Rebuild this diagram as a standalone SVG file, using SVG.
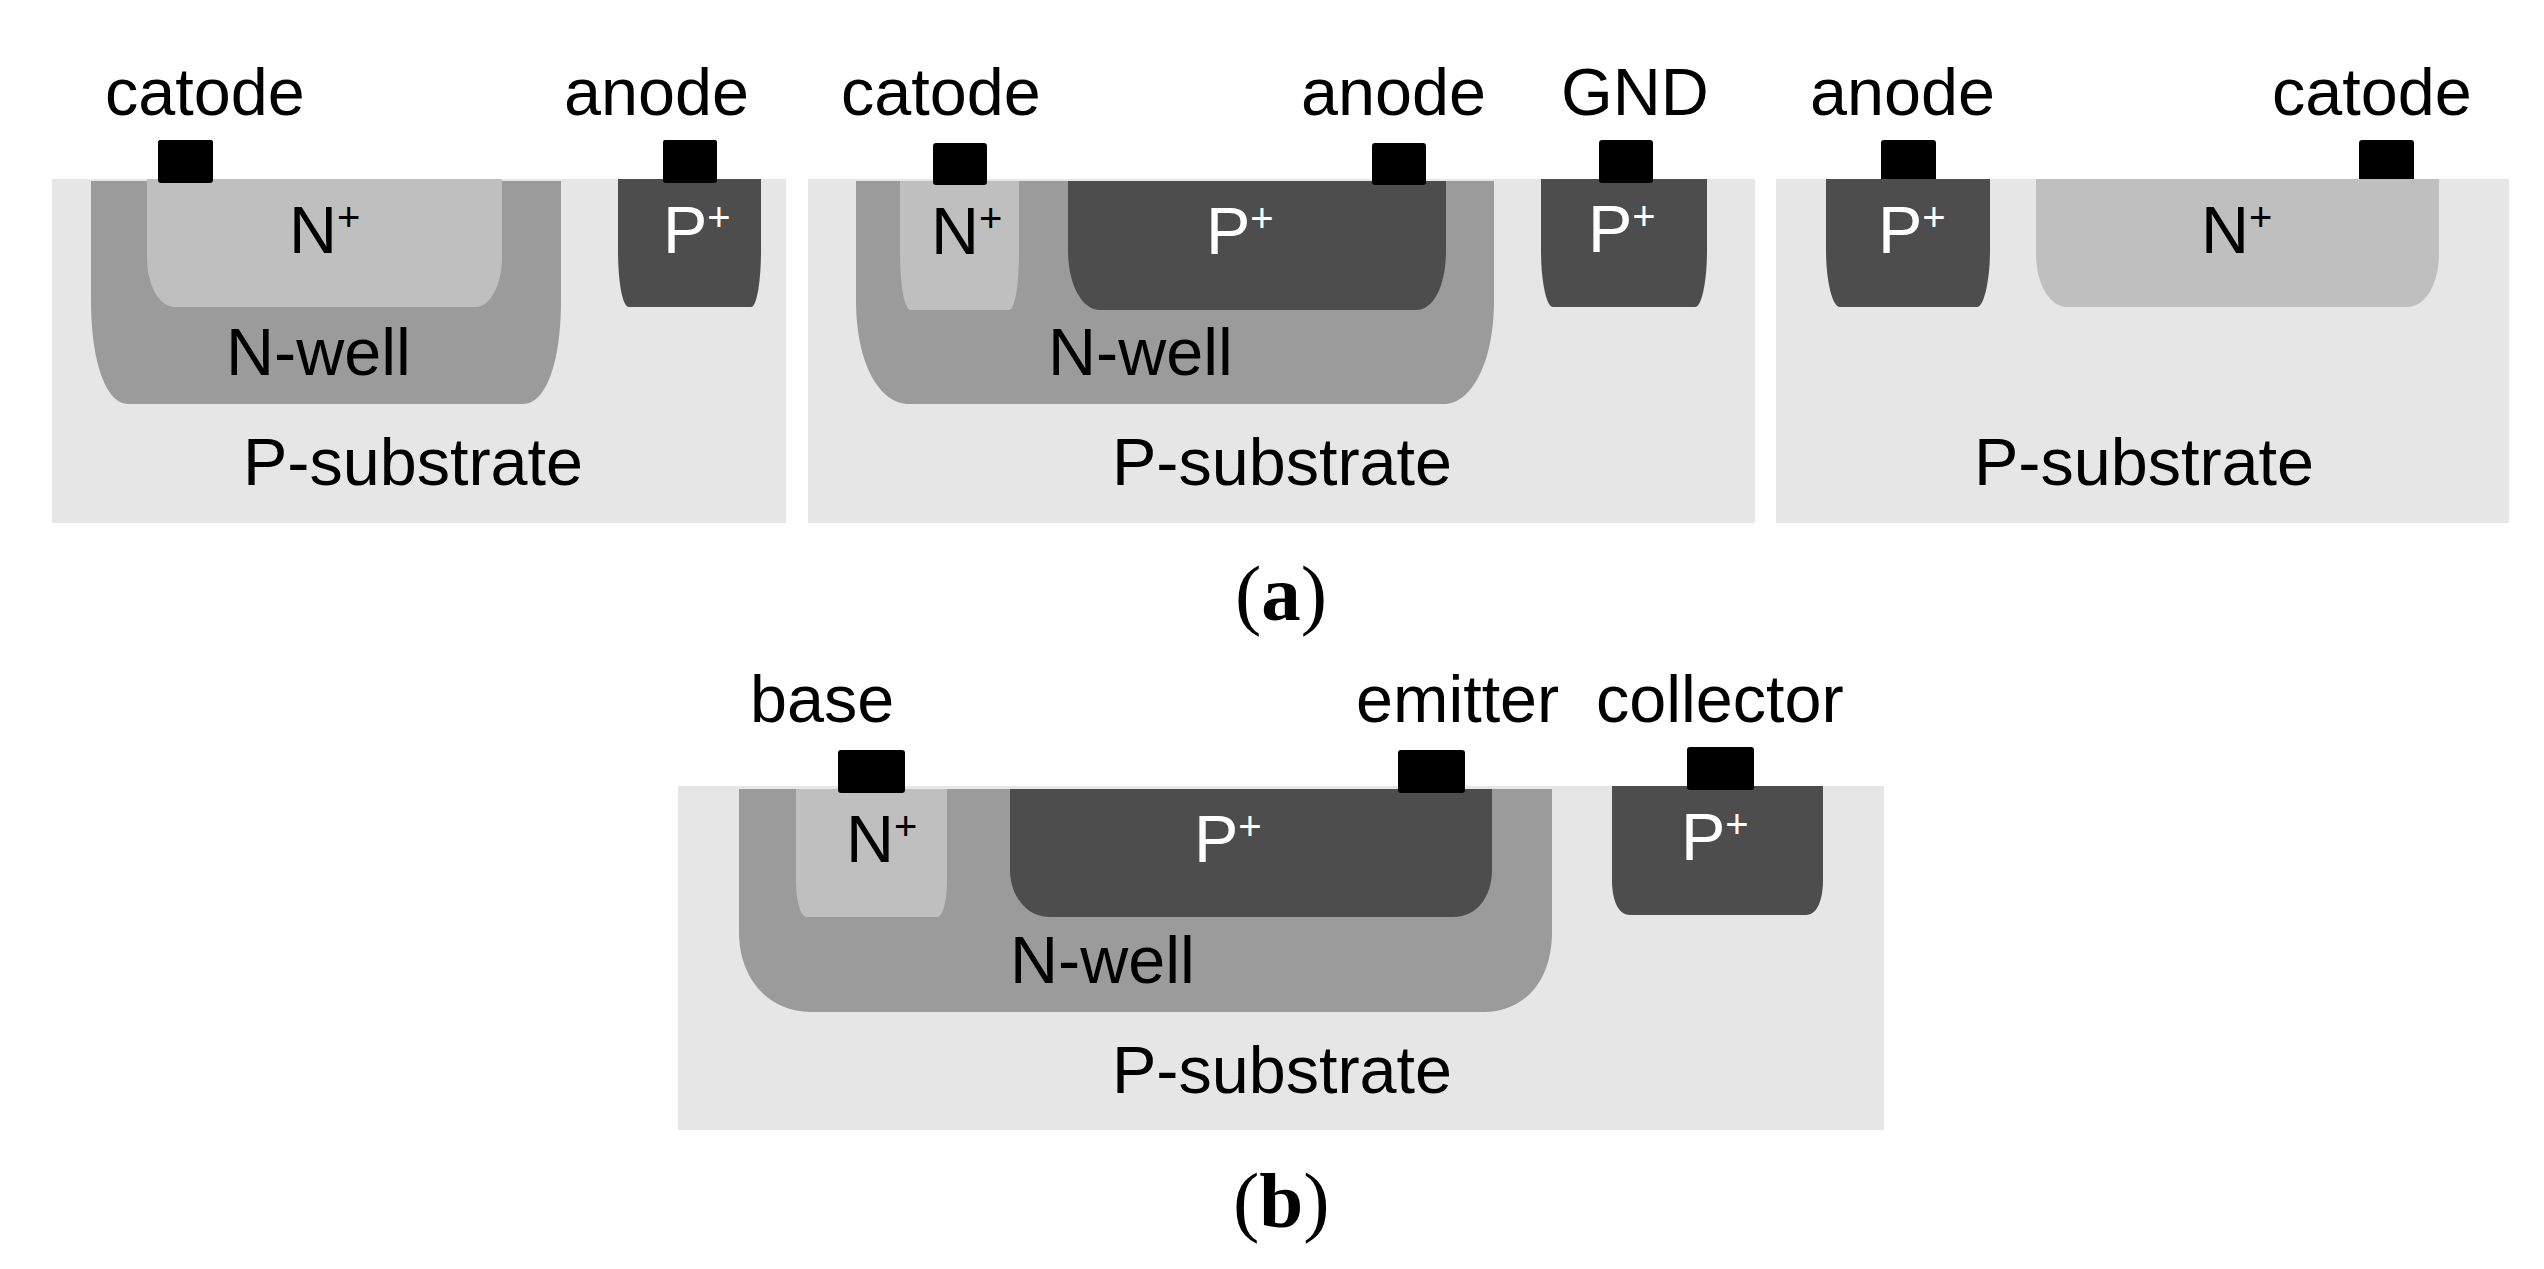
<svg xmlns="http://www.w3.org/2000/svg" width="2544" height="1269" viewBox="0 0 2544 1269">
<style>
text{font-family:"Liberation Sans",Arial,sans-serif;font-size:66.5px;fill:#000}
.w{fill:#fff}
.s{font-size:40px}
.sub{fill:#e6e6e6}.well{fill:#9b9b9b}.np{fill:#bfbfbf}.pp{fill:#4d4d4d}.c{fill:#000}
.cap{font-family:"Liberation Serif","Times New Roman",serif;font-size:79px}
.b{font-weight:bold}
</style>
<rect width="2544" height="1269" fill="#fff"/>
<g id="a1">
<rect class="c" x="158" y="140" width="55" height="43" rx="3"/>
<rect class="c" x="663" y="140" width="54" height="43" rx="3"/>
<rect class="sub" x="52" y="179" width="734" height="344"/>
<path class="well" d="M91 181H561V300C561 365 545 404 523 404H128C107 404 91 365 91 300Z"/>
<path class="np" d="M147 179H502V257C502 285 490 307 476 307H175C159 307 147 285 147 257Z"/>
<path class="pp" d="M618 179H761V250C761 280 757 307 751 307H629C622 307 618 280 618 250Z"/>
<rect class="c" x="158" y="140" width="55" height="43" rx="3"/>
<rect class="c" x="663" y="140" width="54" height="43" rx="3"/>
<text x="105" y="115">catode</text>
<text x="564" y="115">anode</text>
<text x="289" y="253">N<tspan class="s" dy="-22">+</tspan></text>
<text class="w" x="663" y="253">P<tspan class="s" dy="-22">+</tspan></text>
<text x="226" y="375">N-well</text>
<text x="243" y="485">P-substrate</text>
</g>
<g id="a2">
<rect class="sub" x="808" y="179" width="947" height="344"/>
<path class="well" d="M856 181H1494V300C1494 365 1470 404 1444 404H909C880 404 856 365 856 300Z"/>
<path class="np" d="M900 181H1019V250C1019 285 1015 310 1009 310H911C904 310 900 285 900 250Z"/>
<path class="pp" d="M1068 181H1446V250C1446 285 1434 310 1416 310H1100C1082 310 1068 285 1068 250Z"/>
<path class="pp" d="M1541 179H1707V250C1707 280 1702 307 1695 307H1553C1546 307 1541 280 1541 250Z"/>
<rect class="c" x="933" y="143" width="54" height="42" rx="3"/>
<rect class="c" x="1372" y="143" width="54" height="42" rx="3"/>
<rect class="c" x="1599" y="140" width="54" height="43" rx="3"/>
<text x="841" y="115">catode</text>
<text x="1301" y="115">anode</text>
<text x="1561" y="115">GND</text>
<text x="931" y="254">N<tspan class="s" dy="-22">+</tspan></text>
<text class="w" x="1206" y="254">P<tspan class="s" dy="-22">+</tspan></text>
<text class="w" x="1588" y="252">P<tspan class="s" dy="-22">+</tspan></text>
<text x="1048" y="375">N-well</text>
<text x="1112" y="485">P-substrate</text>
<text class="cap" x="1235" y="620">(<tspan class="b">a</tspan>)</text>
</g>
<g id="a3">
<rect class="c" x="1881" y="140" width="55" height="43" rx="3"/>
<rect class="c" x="2359" y="140" width="55" height="43" rx="3"/>
<rect class="sub" x="1776" y="179" width="733" height="344"/>
<path class="pp" d="M1826 179H1990V250C1990 280 1984 307 1977 307H1840C1832 307 1826 280 1826 250Z"/>
<path class="np" d="M2036 179H2439V253C2439 285 2425 307 2407 307H2067C2050 307 2036 285 2036 253Z"/>
<text x="1810" y="115">anode</text>
<text x="2272" y="115">catode</text>
<text class="w" x="1878" y="253">P<tspan class="s" dy="-22">+</tspan></text>
<text x="2201" y="253">N<tspan class="s" dy="-22">+</tspan></text>
<text x="1974" y="485">P-substrate</text>
</g>
<g id="b">
<rect class="sub" x="678" y="786" width="1206" height="344"/>
<path class="well" d="M739 789H1552V932C1552 980 1525 1012 1484 1012H810C770 1012 739 980 739 932Z"/>
<path class="np" d="M796 789H947V880C947 900 943 917 937 917H807C800 917 796 900 796 880Z"/>
<path class="pp" d="M1010 789H1492V870C1492 895 1478 917 1453 917H1049C1026 917 1010 895 1010 870Z"/>
<path class="pp" d="M1612 786H1823V880C1823 900 1817 915 1806 915H1630C1618 915 1612 900 1612 880Z"/>
<rect class="c" x="838" y="750" width="67" height="43" rx="3"/>
<rect class="c" x="1398" y="750" width="67" height="43" rx="3"/>
<rect class="c" x="1687" y="747" width="67" height="43" rx="3"/>
<text x="750" y="722">base</text>
<text x="1356" y="722">emitter</text>
<text x="1596" y="722">collector</text>
<text x="846" y="862">N<tspan class="s" dy="-22">+</tspan></text>
<text class="w" x="1194" y="862">P<tspan class="s" dy="-22">+</tspan></text>
<text class="w" x="1681" y="860">P<tspan class="s" dy="-22">+</tspan></text>
<text x="1010" y="983">N-well</text>
<text x="1112" y="1093">P-substrate</text>
<text class="cap" x="1233" y="1227">(<tspan class="b">b</tspan>)</text>
</g>
<g id="connectors"/>
</svg>
